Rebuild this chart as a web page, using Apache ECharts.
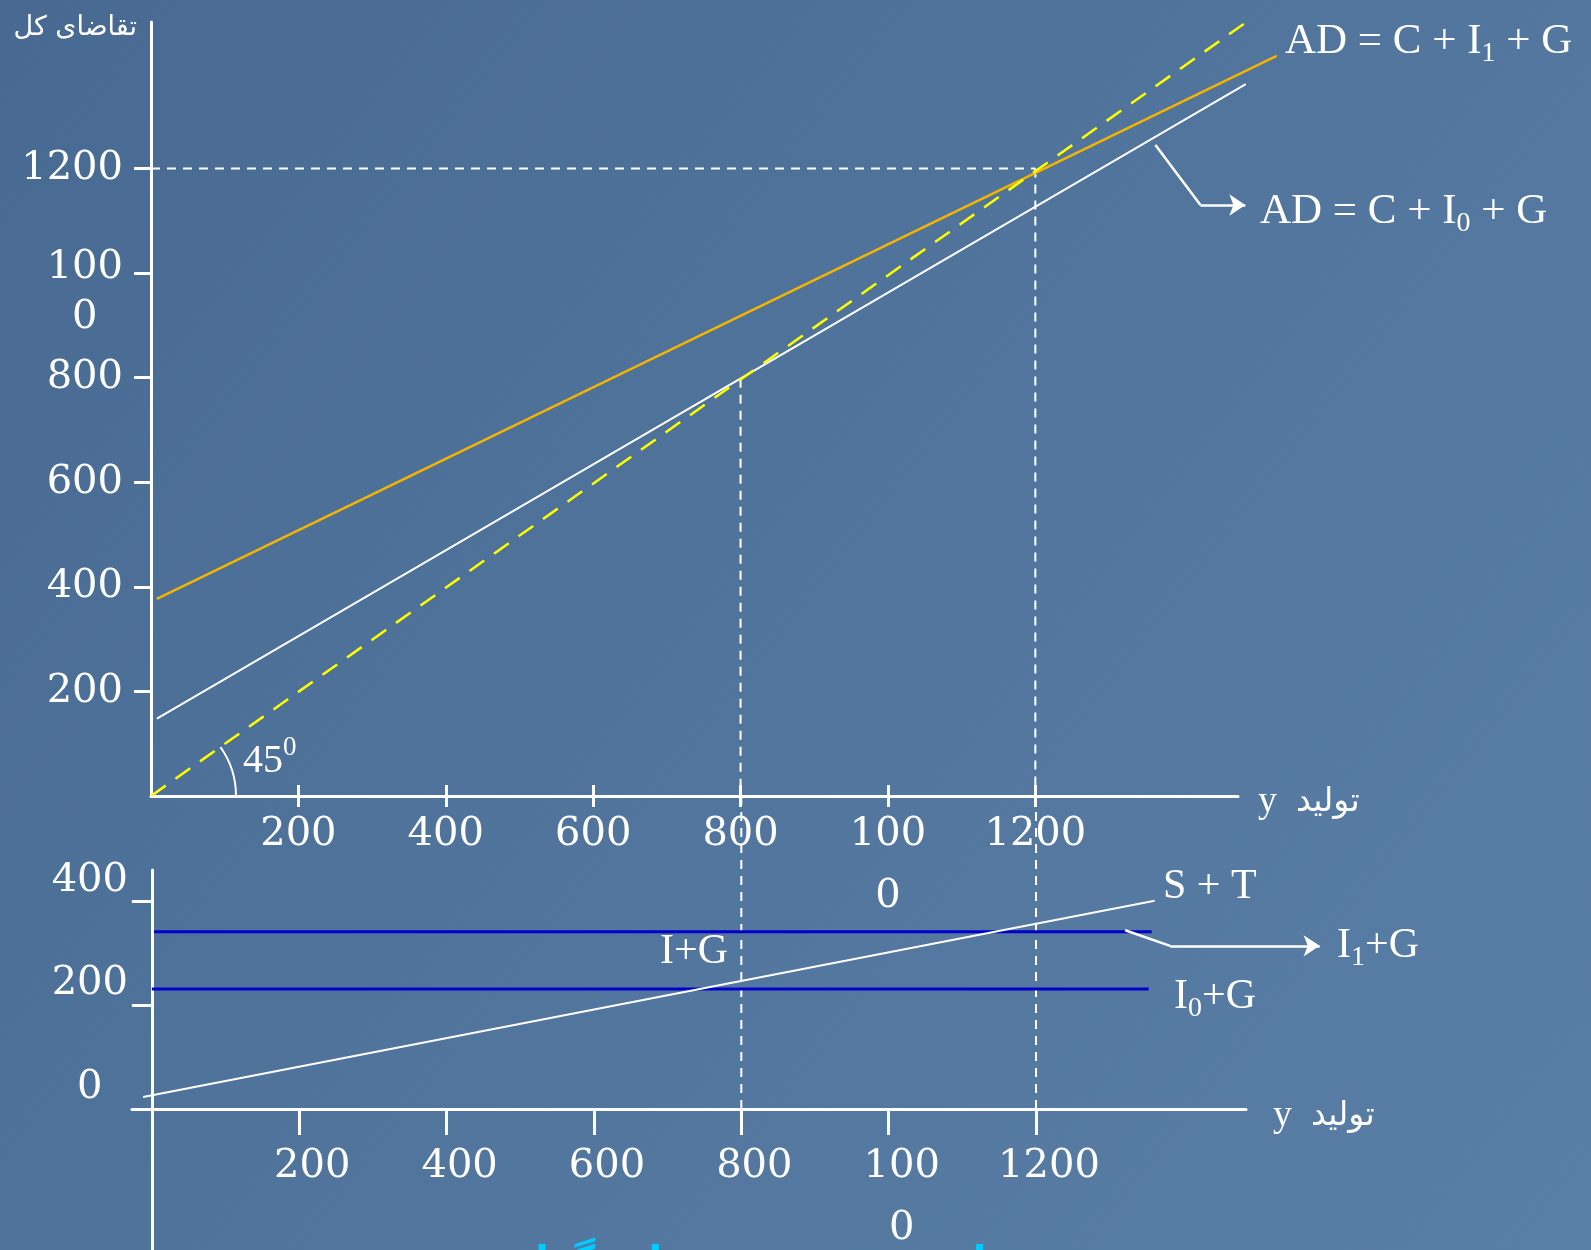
<!DOCTYPE html>
<html>
<head>
<meta charset="utf-8">
<script src="https://cdn.jsdelivr.net/npm/echarts@6.0.0/dist/echarts.min.js"></script>
<style>
html,body{margin:0;padding:0;background:#4e7098;}
#chart{width:1591px;height:1250px;}
</style>
</head>
<body>
<div id="chart"></div>
<script>
// ---------- data ----------
const xTickValues = [200, 400, 600, 800, 1000, 1200];
const yTickValuesTop = [200, 400, 600, 800, 1000, 1200];
const yTickValuesBottom = [200, 400];
const yLabelValuesBottom = [0, 200, 400];

// upper panel: aggregate demand
const line45 = [[0, 0], [1486, 1479]];
const adI1Line = [[8, 377], [1528, 1415]];   // AD = C + I1 + G
const adI0Line = [[8, 148], [1486, 1361]];   // AD = C + I0 + G
const eq800Top = [[800, 798], [800, 0]];
const eq1200Top = [[1200, 1200], [1200, 0]];
const eq1200Horizontal = [[0, 1200], [1200, 1200]];
const calloutAD0a = [[1363, 1245], [1424, 1130]];
const calloutAD0b = [[1424, 1130], [1485, 1130]];

// lower panel: injections and leakages
const i1gLine = [[3, 341], [1357, 341]];     // I1 + G
const i0gLine = [[0, 231], [1353, 231]];     // I0 + G
const stLine = [[-12, 23], [1361, 401]];     // S + T
const eq800Bottom = [[800, 0], [800, 602]];
const eq1200Bottom = [[1200, 0], [1200, 602]];
const calloutI1a = [[1321, 344], [1382, 314]];
const calloutI1b = [[1382, 314], [1585, 314]];

// ---------- styling ----------
const SERIF = '"DejaVu Serif", serif';
const TNR = '"Liberation Serif", "Times New Roman", serif';
const FA = '"DejaVu Sans", "Noto Sans", sans-serif';
const W = '#ffffff';

function tickLabel(v) { return v === 1000 ? '100\n0' : String(v); }

const chart = echarts.init(document.getElementById('chart'), null, {renderer: 'canvas'});

function lineSeries(data, xi, yi, color, width, type, z) {
  return {
    type: 'line', xAxisIndex: xi, yAxisIndex: yi, data: data,
    showSymbol: false, symbol: 'none', clip: false, silent: true, z: z || 2,
    lineStyle: {color: color, width: width, type: type || 'solid'},
    animation: false
  };
}
function segSeries(coords, xi, yi, arrow) {
  return {
    type: 'lines', coordinateSystem: 'cartesian2d', xAxisIndex: xi, yAxisIndex: yi,
    data: [{coords: coords}], clip: false, silent: true, z: 5,
    symbol: arrow ? ['none', 'arrow'] : ['none', 'none'], symbolSize: 16,
    lineStyle: {color: W, width: 2.5, opacity: 1, curveness: 0},
    effect: {show: false}, animation: false
  };
}
const hiddenAxis = {
  axisLine: {show: false}, axisTick: {show: false}, axisLabel: {show: false}, splitLine: {show: false}
};

const option = {
  animation: false,
  backgroundColor: {
    type: 'linear', x: 0, y: 0, x2: 1, y2: 1,
    colorStops: [{offset: 0, color: '#486a92'}, {offset: 1, color: '#5a7fa7'}]
  },
  grid: [
    // 0: upper panel (visible axes)
    {left: 151, top: 22, width: 1087, height: 774, outerBoundsMode: 'none'},
    // 1: lower panel
    {left: 132, top: 870, width: 1114, height: 239, outerBoundsMode: 'none'},
    // 2: lower panel, vertical axis continuing below the output axis
    {left: 132, top: 1109, width: 1114, height: 141, outerBoundsMode: 'none'},
    // 3: upper panel overlay with the same scale, wide enough for the long lines
    {left: 151, top: 22, width: 1127.2, height: 774, outerBoundsMode: 'none'}
  ],
  xAxis: [
    {
      gridIndex: 0, type: 'value', min: 0, max: 1475, position: 'bottom',
      axisLine: {show: true, onZero: false, lineStyle: {color: W, width: 3}},
      axisTick: {show: true, customValues: xTickValues, length: 11, lineStyle: {color: W, width: 3}},
      axisLabel: {show: true, customValues: xTickValues, formatter: tickLabel, color: W,
        fontFamily: SERIF, fontSize: 40, lineHeight: 62, margin: 8},
      splitLine: {show: false}
    },
    {
      gridIndex: 0, type: 'value', min: 0, max: 1475, position: 'bottom',
      axisLine: {show: false, onZero: false},
      axisTick: {show: true, inside: true, customValues: xTickValues, length: 11, lineStyle: {color: W, width: 3}},
      axisLabel: {show: false}, splitLine: {show: false}
    },
    {
      gridIndex: 1, type: 'value', min: -27, max: 1485, position: 'bottom',
      axisLine: {show: true, onZero: false, lineStyle: {color: W, width: 3}},
      axisTick: {show: true, customValues: xTickValues, length: 26, lineStyle: {color: W, width: 3}},
      axisLabel: {show: true, customValues: xTickValues, formatter: tickLabel, color: W,
        fontFamily: SERIF, fontSize: 40, lineHeight: 62, margin: 27, padding: [0, 0, 0, 26]},
      splitLine: {show: false}
    },
    Object.assign({gridIndex: 2, type: 'value', min: -27, max: 1485}, hiddenAxis),
    Object.assign({gridIndex: 3, type: 'value', min: 0, max: 1530}, hiddenAxis)
  ],
  yAxis: [
    {
      gridIndex: 0, type: 'value', min: 0, max: 1480,
      axisLine: {show: true, onZero: false, lineStyle: {color: W, width: 3}},
      axisTick: {show: true, customValues: yTickValuesTop, length: 17, lineStyle: {color: W, width: 3}},
      axisLabel: {show: true, customValues: yTickValuesTop, color: W, fontFamily: SERIF, fontSize: 40,
        lineHeight: 50, margin: 28,
        formatter: function (v) { return v === 1000 ? '{e| }\n100\n0  ' : String(v); },
        rich: {e: {lineHeight: 40, fontSize: 10}}},
      splitLine: {show: false}
    },
    {
      gridIndex: 1, type: 'value', min: 0, max: 460,
      axisLine: {show: true, onZero: true, lineStyle: {color: W, width: 3}},
      axisTick: {show: true, customValues: yTickValuesBottom, length: 20, lineStyle: {color: W, width: 3}},
      axisLabel: {show: true, customValues: yLabelValuesBottom, color: W, fontFamily: SERIF, fontSize: 40,
        lineHeight: 42, margin: 4, verticalAlign: 'bottom',
        formatter: function (v) { return v === 0 ? '0  ' : String(v); }},
      splitLine: {show: false}
    },
    {
      gridIndex: 2, type: 'value', min: 0, max: 1,
      axisLine: {show: true, onZero: true, lineStyle: {color: W, width: 3}},
      axisTick: {show: false}, axisLabel: {show: false}, splitLine: {show: false}
    },
    Object.assign({gridIndex: 3, type: 'value', min: 0, max: 1480}, hiddenAxis)
  ],
  series: [
    // upper panel
    lineSeries(eq1200Horizontal, 0, 0, W, 2, [9, 7], 1),
    lineSeries(eq800Top, 0, 0, W, 2, [9, 7], 1),
    lineSeries(eq1200Top, 0, 0, W, 2, [9, 7], 1),
    lineSeries(adI0Line, 4, 3, W, 2, 'solid', 2),
    lineSeries(adI1Line, 4, 3, '#f4b400', 2.5, 'solid', 3),
    lineSeries(line45, 4, 3, '#ffff00', 2.5, [18, 12], 4),
    segSeries(calloutAD0a, 0, 0, false),
    segSeries(calloutAD0b, 0, 0, true),
    {
      type: 'custom', xAxisIndex: 4, yAxisIndex: 3, data: [[0, 0]], clip: false, silent: true, z: 5,
      renderItem: function (params, api) {
        const o = api.coord([api.value(0), api.value(1)]);
        const p = api.coord([line45[1][0], line45[1][1]]);
        const ang = Math.atan2(p[1] - o[1], p[0] - o[0]);
        return {
          type: 'arc',
          shape: {cx: o[0], cy: o[1], r: 85, startAngle: ang, endAngle: 0, clockwise: true},
          style: {stroke: W, fill: null, lineWidth: 2}
        };
      }
    },
    // lower panel
    lineSeries(eq800Bottom, 2, 1, W, 2, [9, 7], 1),
    lineSeries(eq1200Bottom, 2, 1, W, 2, [9, 7], 1),
    lineSeries(i1gLine, 2, 1, '#0000cc', 3, 'solid', 2),
    lineSeries(i0gLine, 2, 1, '#0000cc', 3, 'solid', 2),
    lineSeries(stLine, 2, 1, W, 2, 'solid', 3),
    segSeries(calloutI1a, 2, 1, false),
    segSeries(calloutI1b, 2, 1, true)
  ],
  graphic: [
    {type: 'text', silent: true, style: {x: 137, y: 28, text: 'تقاضای کل', align: 'right',
      verticalAlign: 'middle', fill: W, fontFamily: FA, fontSize: 27}},
    {type: 'text', silent: true, style: {x: 1285, y: 42, verticalAlign: 'middle', align: 'left', fill: W,
      text: '{n|AD = C + I}{s|1}{n| + G}',
      rich: {n: {fontFamily: TNR, fontSize: 43, fill: W}, s: {fontFamily: TNR, fontSize: 28, fill: W, padding: [24, 0, 0, 0]}}}},
    {type: 'text', silent: true, style: {x: 1260, y: 212, verticalAlign: 'middle', align: 'left', fill: W,
      text: '{n|AD = C + I}{s|0}{n| + G}',
      rich: {n: {fontFamily: TNR, fontSize: 43, fill: W}, s: {fontFamily: TNR, fontSize: 28, fill: W, padding: [24, 0, 0, 0]}}}},
    {type: 'text', silent: true, style: {x: 243, y: 761, verticalAlign: 'middle', align: 'left', fill: W,
      text: '{n|45}{s|0}',
      rich: {n: {fontFamily: TNR, fontSize: 40, fill: W}, s: {fontFamily: TNR, fontSize: 27, fill: W, padding: [0, 0, 26, 0]}}}},
    {type: 'text', silent: true, style: {x: 1258, y: 802, verticalAlign: 'middle', align: 'left', fill: W,
      text: '{y|y  }{p|تولید}',
      rich: {y: {fontFamily: TNR, fontSize: 38, fill: W}, p: {fontFamily: FA, fontSize: 33, fill: W}}}},
    {type: 'text', silent: true, style: {x: 1273, y: 1116, verticalAlign: 'middle', align: 'left', fill: W,
      text: '{y|y  }{p|تولید}',
      rich: {y: {fontFamily: TNR, fontSize: 38, fill: W}, p: {fontFamily: FA, fontSize: 33, fill: W}}}},
    {type: 'text', silent: true, style: {x: 1163, y: 887, verticalAlign: 'middle', align: 'left', fill: W,
      text: 'S + T', fontFamily: TNR, fontSize: 42}},
    {type: 'text', silent: true, style: {x: 1337, y: 946, verticalAlign: 'middle', align: 'left', fill: W,
      text: '{n|I}{s|1}{n|+G}',
      rich: {n: {fontFamily: TNR, fontSize: 42, fill: W}, s: {fontFamily: TNR, fontSize: 28, fill: W, padding: [24, 0, 0, 0]}}}},
    {type: 'text', silent: true, style: {x: 1174, y: 997, verticalAlign: 'middle', align: 'left', fill: W,
      text: '{n|I}{s|0}{n|+G}',
      rich: {n: {fontFamily: TNR, fontSize: 42, fill: W}, s: {fontFamily: TNR, fontSize: 28, fill: W, padding: [24, 0, 0, 0]}}}},
    {type: 'text', silent: true, style: {x: 660, y: 952, verticalAlign: 'middle', align: 'left', fill: W,
      text: 'I+G', fontFamily: TNR, fontSize: 42}},
    {type: 'text', silent: true, style: {x: 731, y: 1264, verticalAlign: 'middle', align: 'center', fill: '#00ccff',
      text: 'اثر تغییر در سرمایه گذاری', fontFamily: FA, fontSize: 40, fontWeight: 'bold'}}
  ]
};
chart.setOption(option);
</script>
</body>
</html>
